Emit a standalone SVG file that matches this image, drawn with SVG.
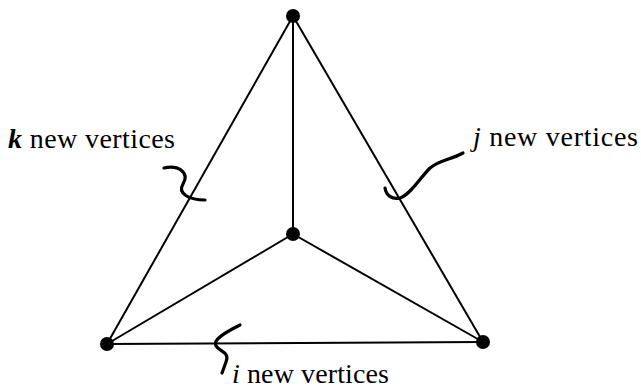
<svg xmlns="http://www.w3.org/2000/svg" width="641" height="388" viewBox="0 0 641 388">
<style>
.e{stroke:#000;stroke-width:2;fill:none}
.s{stroke:#000;stroke-width:3.2;fill:none;stroke-linecap:round}
.v{fill:#000}
.t{font-family:"Liberation Serif",serif;font-size:28px;fill:#000}
.m{font-style:italic}
</style>
<rect width="641" height="388" fill="#fff"/>
<g id="connectors">
<line class="e" x1="293" y1="16" x2="293" y2="234"/>
<line class="e" x1="293" y1="16" x2="107" y2="344"/>
<line class="e" x1="293" y1="16" x2="483" y2="342"/>
<line class="e" x1="293" y1="234" x2="107" y2="344"/>
<line class="e" x1="293" y1="234" x2="483" y2="342"/>
<line class="e" x1="107" y1="344" x2="483" y2="342"/>
</g>
<g id="squiggles">
<path class="s" d="M164,168 C178,165 190,172 183,184 C177,194 190,200 205,200"/>
<path class="s" d="M463,153 C450,160 440,160 430,168 C420,178 410,195 400,198 C392,200 386,195 385,188"/>
<path class="s" d="M240,325 C226,332 212,340 216,346 C220,352 230,352 226,362 L222,373"/>
</g>
<g id="v-top"><circle class="v" cx="293" cy="16" r="7"/></g>
<g id="v-center"><circle class="v" cx="293" cy="234" r="7"/></g>
<g id="v-left"><circle class="v" cx="107" cy="344" r="7"/></g>
<g id="v-right"><circle class="v" cx="483" cy="342" r="7"/></g>
<g id="labels">
<text class="t" x="8" y="148" textLength="167" lengthAdjust="spacing"><tspan class="m" font-weight="bold">k</tspan> new vertices</text>
<text class="t" x="473" y="146" textLength="165" lengthAdjust="spacing"><tspan class="m">j</tspan> new vertices</text>
<text class="t" x="232" y="383" textLength="157" lengthAdjust="spacing"><tspan class="m">i</tspan> new vertices</text>
</g>
</svg>
